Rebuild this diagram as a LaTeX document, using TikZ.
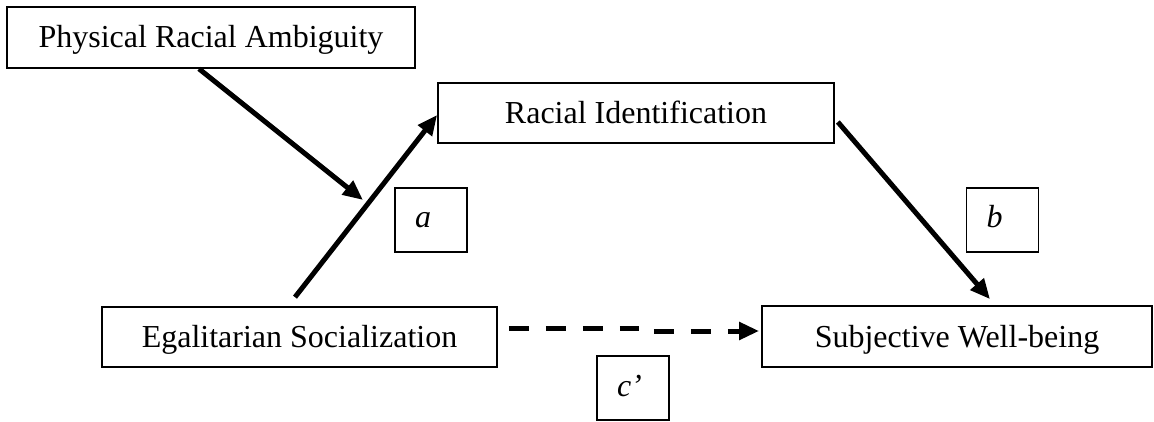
\documentclass[tikz,border=0pt]{standalone}
\usepackage{fontspec}
\setmainfont{Liberation Serif}
\usetikzlibrary{arrows.meta,calc}
\begin{document}
\begin{tikzpicture}[x=1pt,y=-1pt,
 box/.style={draw, line width=1.7pt, inner sep=0pt, font=\fontsize{32}{38}\selectfont, text height=22pt, text depth=1pt},
 lab/.style={draw, line width=1.7pt, inner sep=0pt, minimum width=72pt, minimum height=64pt, font=\fontsize{32}{38}\selectfont\itshape, text height=16pt, text depth=0pt, text width=32pt, align=left},
 arr/.style={line width=5pt, -{Triangle[length=20pt,width=17pt]}},
 darr/.style={arr, dash pattern=on 20pt off 17pt}]
\useasboundingbox (0,0) rectangle (1154,422);
\node[box, minimum width=408pt, minimum height=61pt] (pra) at (211,37.5) {Physical Racial Ambiguity};
\node[box, minimum width=396pt, minimum height=60pt] (ri) at (636,113) {Racial Identification};
\node[box, minimum width=395pt, minimum height=60pt] (es) at (299.5,337) {Egalitarian Socialization};
\node[box, minimum width=390pt, minimum height=61pt] (swb) at (957,336.5) {Subjective Well-being};
\node[lab] (la) at (431,220) {a};
\node[lab] (lb) at (1002.5,220) {b};
\node[lab] (lc) at (633,388) {c’};
\coordinate (m) at (363,200);
\draw[arr] ($(pra.south)+(-12,0)$) -- (m);
\draw[arr] ($(es.north)+(-4.5,-9)$) -- ($(ri.west)+(0,2)$);
\draw[arr] ($(ri.east)+(3,9)$) -- ($(swb.north)+(33,-6)$);
\draw[darr] ($(es.east)+(11,-9)$) -- ++(128,0) -- ++(0,3) -- ($(swb.west)+(-2,-5.5)$);
\end{tikzpicture}
\end{document}
